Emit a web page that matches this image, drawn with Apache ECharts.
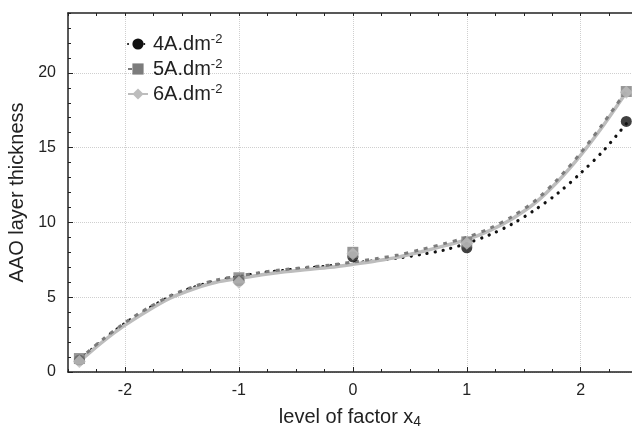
<!DOCTYPE html>
<html>
  <head>
    <meta charset="utf-8">
    <title>AAO layer thickness</title>
    <script src="https://cdn.jsdelivr.net/npm/echarts@6/dist/echarts.min.js"></script>
    <style>
      html, body { margin: 0; padding: 0; background: #fff; }
      #chart { width: 632px; height: 428px; }
    </style>
  </head>
  <body>
    <div id="chart"></div>
    <script>
      // series names
      const names = ['4A.dm-2', '5A.dm-2', '6A.dm-2'];

      // fitted curves
      const curveX = [-2.4, -2.2, -2.0, -1.8, -1.6, -1.4, -1.2, -1.0, -0.8, -0.6, -0.4, -0.2, 0,
                      0.2, 0.4, 0.6, 0.8, 1.0, 1.2, 1.4, 1.6, 1.8, 2.0, 2.2, 2.4];
      const fit4 = [0.8, 2.1, 3.25, 4.22, 5.05, 5.65, 6.1, 6.38, 6.62, 6.8, 6.95, 7.1, 7.28,
                    7.45, 7.62, 7.86, 8.15, 8.6, 9.17, 9.9, 10.85, 11.95, 13.3, 14.8, 16.6];
      const fit5 = [0.85, 2.15, 3.3, 4.27, 5.1, 5.7, 6.15, 6.42, 6.66, 6.85, 7.0, 7.15, 7.35,
                    7.57, 7.83, 8.19, 8.58, 9.0, 9.6, 10.4, 11.45, 12.9, 14.65, 16.65, 18.8];
      const fit6 = [0.7, 2.0, 3.13, 4.1, 4.95, 5.55, 6.0, 6.25, 6.5, 6.7, 6.85, 7.0, 7.2,
                    7.42, 7.68, 8.04, 8.43, 8.85, 9.45, 10.25, 11.3, 12.75, 14.5, 16.5, 18.7];

      // measured points
      const pointX = [-2.4, -1, 0, 1, 2.4];
      const pts4 = [0.8, 6.1, 7.7, 8.3, 16.75];
      const pts5 = [0.9, 6.3, 8.0, 8.7, 18.75];
      const pts6 = [0.7, 6.0, 7.9, 8.6, 18.7];

      // ticks
      const xMajor = [-2, -1, 0, 1, 2];
      const yMajor = [0, 5, 10, 15, 20];

      const zip = (xs, ys) => xs.map((x, i) => [x, ys[i]]);
      const ink = '#222';

      const looks = [
        { color: '#111', line: { type: [0.1, 8], cap: 'round', width: 3.2 }, symbol: 'circle', size: 11, z: 2 },
        { color: '#7c7c7c', line: { type: [4, 6], width: 3 }, symbol: 'rect', size: 11, z: 4 },
        { color: '#bdbdbd', line: { type: 'solid', width: 3.5 }, symbol: 'diamond', size: 13, z: 3 }
      ];
      const fits = [fit4, fit5, fit6];
      const pts = [pts4, pts5, pts6];

      const series = [];
      names.forEach((n, i) => {
        const lk = looks[i];
        series.push({
          name: n, type: 'line', smooth: 0.3, z: lk.z,
          symbol: lk.symbol, symbolSize: 10, showSymbol: false,
          data: zip(curveX, fits[i]),
          itemStyle: { color: lk.color },
          lineStyle: Object.assign({ color: lk.color }, lk.line),
          emphasis: { disabled: true }
        });
      });
      names.forEach((n, i) => {
        const lk = looks[i];
        series.push({
          name: n, type: 'scatter', z: 10 + i,
          symbol: lk.symbol, symbolSize: lk.size,
          data: zip(pointX, pts[i]),
          itemStyle: { color: lk.color }
        });
      });

      const minorX = { min: -2.5, max: 2.45, interval: 0.25 };
      const chart = echarts.init(document.getElementById('chart'));
      chart.setOption({
        animation: false,
        textStyle: { fontFamily: 'Liberation Sans, Arial, sans-serif' },
        grid: { left: 68, right: 0, top: 13, bottom: 56, containLabel: false, outerBoundsMode: 'none' },
        legend: {
          data: names, orient: 'vertical', left: 122, top: 28,
          itemWidth: 20, itemHeight: 14, itemGap: 4,
          formatter: n => n.replace('dm-2', 'dm{sup|-2}'),
          textStyle: {
            fontSize: 20, color: ink,
            rich: { sup: { fontSize: 13, color: ink, verticalAlign: 'bottom', padding: [0, 0, 9, 0] } }
          }
        },
        xAxis: [
          {
            type: 'value', position: 'bottom', min: -2.5, max: 2.45,
            name: 'level of factor x{sub|4}', nameLocation: 'middle', nameGap: 33,
            nameTextStyle: {
              fontSize: 20, color: ink,
              rich: { sub: { fontSize: 14, color: ink, verticalAlign: 'top', padding: [10, 0, 0, 0] } }
            },
            axisLine: { onZero: false, lineStyle: { color: ink, width: 1.5 } },
            axisTick: { inside: true, length: 5, customValues: xMajor, lineStyle: { color: ink } },
            axisLabel: { customValues: xMajor, fontSize: 16, color: ink, margin: 11 },
            splitLine: { show: true, lineStyle: { type: 'dotted', color: '#cfcfcf' } }
          },
          Object.assign({
            type: 'value', position: 'bottom',
            axisLine: { show: false, onZero: false },
            axisTick: { inside: true, length: 3, lineStyle: { color: ink } },
            axisLabel: { show: false }, splitLine: { show: false }
          }, minorX),
          Object.assign({
            type: 'value', position: 'top',
            axisLine: { onZero: false, lineStyle: { color: ink, width: 1.5 } },
            axisTick: { inside: true, length: 3, lineStyle: { color: ink } },
            axisLabel: { show: false }, splitLine: { show: false }
          }, minorX)
        ],
        yAxis: [
          {
            type: 'value', position: 'left', min: 0, max: 24,
            name: 'AAO layer thickness', nameLocation: 'middle', nameGap: 33,
            nameTextStyle: { fontSize: 20, color: ink },
            axisLine: { show: true, onZero: false, lineStyle: { color: ink, width: 1.5 } },
            axisTick: { show: true, inside: true, length: 5, customValues: yMajor, lineStyle: { color: ink } },
            axisLabel: { customValues: yMajor, fontSize: 16, color: ink, margin: 12 },
            splitLine: { show: true, lineStyle: { type: 'dotted', color: '#cfcfcf' } }
          },
          {
            type: 'value', position: 'left', min: 0, max: 24, interval: 1,
            axisLine: { show: false, onZero: false },
            axisTick: { show: true, inside: true, length: 3, lineStyle: { color: ink } },
            axisLabel: { show: false }, splitLine: { show: false }
          }
        ],
        series: series
      });
    </script>
  </body>
</html>
